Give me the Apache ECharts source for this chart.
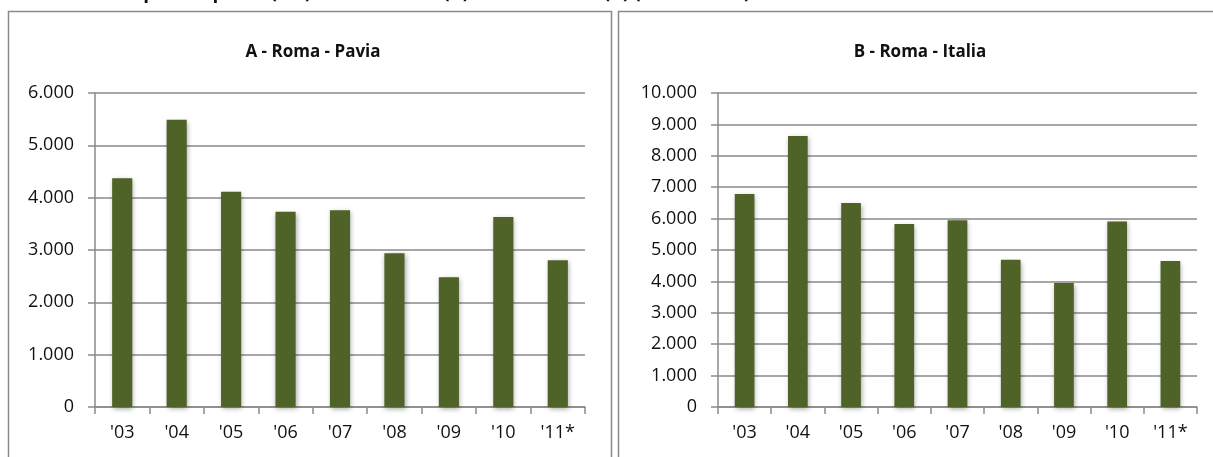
<!DOCTYPE html>
<html>
<head>
<meta charset="utf-8">
<script src="https://cdn.jsdelivr.net/npm/echarts@6/dist/echarts.min.js"></script>
<style>
  html, body { margin: 0; padding: 0; background: #fff; }
  #chart { width: 1213px; height: 457px; }
</style>
</head>
<body>
<div id="chart"></div>
<script>
// categorie (anni)
const years = ["'03", "'04", "'05", "'06", "'07", "'08", "'09", "'10", "'11*"]
// A - Roma - Pavia
const romaPavia = [4370, 5490, 4115, 3730, 3760, 2940, 2480, 3630, 2805]
// B - Roma - Italia
const romaItalia = [6780, 8630, 6500, 5830, 5950, 4690, 3950, 5910, 4650]

const titleA = 'A - Roma - Pavia'
const titleB = 'B - Roma - Italia'
const pageTitle = 'Grafico 3 - Tempi di risposta (ms) - Roma Pavia (A) e Roma Italia (B) (2003-2011*)'

const fmt = v => String(v).replace(/\B(?=(\d{3})+(?!\d))/g, '.')
const font = "'Open Sans', 'Noto Sans', sans-serif"
const barColor = '#4f6228'
const lineGrey = '#8a8a8a'

function xAxis(gridIndex) {
  return {
    type: 'category',
    gridIndex,
    data: years,
    axisLine: { lineStyle: { color: lineGrey, width: 1.5 } },
    axisTick: { show: true, length: 7, lineStyle: { color: lineGrey, width: 1.5 } },
    axisLabel: { color: '#111', fontSize: 18, fontFamily: font, margin: 17 }
  }
}

function yAxis(gridIndex, max) {
  return {
    type: 'value',
    gridIndex,
    min: 0,
    max,
    interval: 1000,
    axisLine: { show: true, lineStyle: { color: lineGrey, width: 1.5 } },
    axisTick: { show: true, length: 7, lineStyle: { color: lineGrey, width: 1.5 } },
    axisLabel: { color: '#111', fontSize: 18, fontFamily: font, margin: 21, formatter: fmt },
    splitLine: { lineStyle: { color: lineGrey, width: 1.5 } }
  }
}

function barSeries(idx, data) {
  return {
    type: 'bar',
    xAxisIndex: idx,
    yAxisIndex: idx,
    data,
    barWidth: '37%',
    itemStyle: {
      color: barColor,
      shadowColor: 'rgba(0, 0, 0, 0.35)',
      shadowBlur: 5,
      shadowOffsetX: 1,
      shadowOffsetY: 2
    },
    animation: false
  }
}

const chart = echarts.init(document.getElementById('chart'))

chart.setOption({
  backgroundColor: '#fff',
  animation: false,
  title: [
    { text: titleA, left: 308, top: 39, textAlign: 'center',
      textStyle: { fontSize: 17, fontWeight: 'bold', color: '#111', fontFamily: font } },
    { text: titleB, left: 915, top: 39, textAlign: 'center',
      textStyle: { fontSize: 17, fontWeight: 'bold', color: '#111', fontFamily: font } }
  ],
  graphic: [
    // testo del titolo tagliato in alto
    { type: 'text', left: 2, top: -17,
      style: { text: pageTitle, fontSize: 19, fontWeight: 'bold', fill: '#111', fontFamily: font } },
    // cornici dei pannelli
    { type: 'rect', shape: { x: 8.5, y: 11.5, width: 603, height: 460 },
      style: { fill: 'none', stroke: lineGrey, lineWidth: 1.5 } },
    { type: 'rect', shape: { x: 618.5, y: 11.5, width: 610, height: 460 },
      style: { fill: 'none', stroke: lineGrey, lineWidth: 1.5 } }
  ],
  grid: [
    { left: 95, top: 93, width: 490, height: 314 },
    { left: 718, top: 93, width: 479, height: 314 }
  ],
  xAxis: [xAxis(0), xAxis(1)],
  yAxis: [yAxis(0, 6000), yAxis(1, 10000)],
  series: [barSeries(0, romaPavia), barSeries(1, romaItalia)]
})
</script>
</body>
</html>
